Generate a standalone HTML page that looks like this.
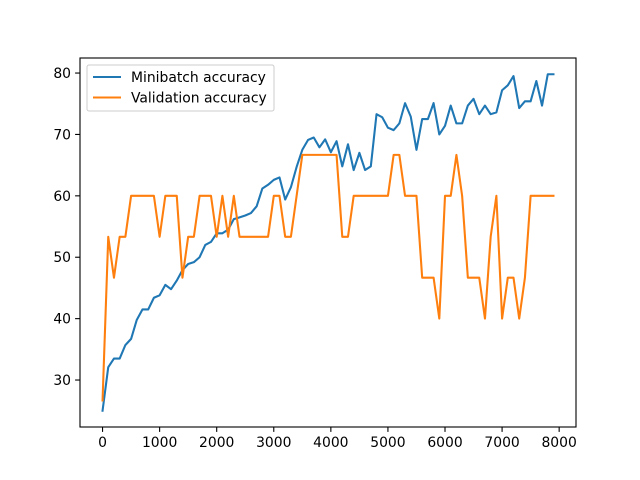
<!DOCTYPE html>
<html><head><meta charset="utf-8"><style>
body{margin:0;background:#fff;}
svg{display:block;font-family:"DejaVu Sans","Liberation Sans",sans-serif;}
</style></head><body>
<svg id="chart" width="640" height="480">
<rect width="640" height="480" fill="#fff"/>
<g id="plot"></g>
</svg>
<script>
const steps = [];
for (let i = 0; i < 80; i++) steps.push(i * 100);
const minibatch = [25.0,32.1,33.5,33.5,35.7,36.7,39.8,41.5,41.5,43.4,43.8,45.5,44.8,46.2,47.9,48.9,49.2,50.0,52.0,52.5,53.9,53.9,54.5,56.2,56.5,56.8,57.2,58.3,61.2,61.8,62.6,63.0,59.4,61.4,64.7,67.5,69.1,69.5,67.9,69.2,67.1,68.9,64.8,68.4,64.2,67.0,64.2,64.8,73.3,72.8,71.1,70.7,71.8,75.1,72.9,67.5,72.5,72.5,75.1,70.0,71.4,74.7,71.8,71.8,74.7,75.8,73.3,74.7,73.3,73.6,77.2,78.0,79.5,74.3,75.4,75.4,78.7,74.7,79.8,79.8];
const validation = [26.67,53.33,46.67,53.33,53.33,60,60,60,60,60,53.33,60,60,60,46.67,53.33,53.33,60,60,60,53.33,60,53.33,60,53.33,53.33,53.33,53.33,53.33,53.33,60,60,53.33,53.33,60,66.67,66.67,66.67,66.67,66.67,66.67,66.67,53.33,53.33,60,60,60,60,60,60,60,66.67,66.67,60,60,60,46.67,46.67,46.67,40,60,60,66.67,60,46.67,46.67,46.67,40,53.33,60,40,46.67,46.67,40,46.67,60,60,60,60,60];
const xTicks = [0,1000,2000,3000,4000,5000,6000,7000,8000];
const yTicks = [30,40,50,60,70,80];
const seriesNames = ["Minibatch accuracy","Validation accuracy"];

const L=80,R=576,T=58,B=427;
const xMin=-395,xMax=8295,yMin=22.35,yMax=82.45;
const sx=v=>L+(v-xMin)/(xMax-xMin)*(R-L);
const sy=v=>B-(v-yMin)/(yMax-yMin)*(B-T);
const NS="http://www.w3.org/2000/svg";
const g=document.getElementById('plot');
function mk(tag,attrs,parent){const e=document.createElementNS(NS,tag);for(const k in attrs)e.setAttribute(k,attrs[k]);(parent||g).appendChild(e);return e;}

function line(vals,color,name){
  const d=vals.map((v,i)=>(i?'L':'M')+sx(steps[i]).toFixed(2)+','+sy(v).toFixed(2)).join('');
  const p=mk('path',{d:d,fill:'none',stroke:color,'stroke-width':2.08,'stroke-linejoin':'round','stroke-linecap':'square'});
  
  
}
line(minibatch,'#1f77b4','minibatch-accuracy-line');
line(validation,'#ff7f0e','validation-accuracy-line');

const frame=mk('rect',{x:L,y:T,width:R-L,height:B-T,fill:'none',stroke:'#000','stroke-width':1.1});



xTicks.forEach(v=>{
  const x=sx(v);
  const t=mk('line',{x1:x,x2:x,y1:B,y2:B+4.9,stroke:'#000','stroke-width':1.1});
  
  
  const tx=mk('text',{x:x,y:B+20,'text-anchor':'middle','font-size':'13.9px',fill:'#000'});
  tx.textContent=v;
  
  
});
yTicks.forEach(v=>{
  const y=sy(v);
  const t=mk('line',{x1:L-4.9,x2:L,y1:y,y2:y,stroke:'#000','stroke-width':1.1});
  
  
  const tx=mk('text',{x:L-9,y:y+5,'text-anchor':'end','font-size':'13.9px',fill:'#000'});
  tx.textContent=v;
  
  
});

const lg=mk('g',{});


mk('rect',{x:87,y:65,width:187,height:46,rx:2,fill:'#fff','fill-opacity':0.8,stroke:'#ccc','stroke-width':1},lg);
const colors=['#1f77b4','#ff7f0e'];
seriesNames.forEach((n,i)=>{
  const y=77+i*20.5;
  const ln=mk('line',{x1:93,x2:121,y1:y,y2:y,stroke:colors[i],'stroke-width':2.08},lg);
  
  
  const tx=mk('text',{x:131,y:y+5,'font-size':'13.9px',fill:'#000'},lg);
  tx.textContent=n;
  
  
});
</script>
</body></html>
